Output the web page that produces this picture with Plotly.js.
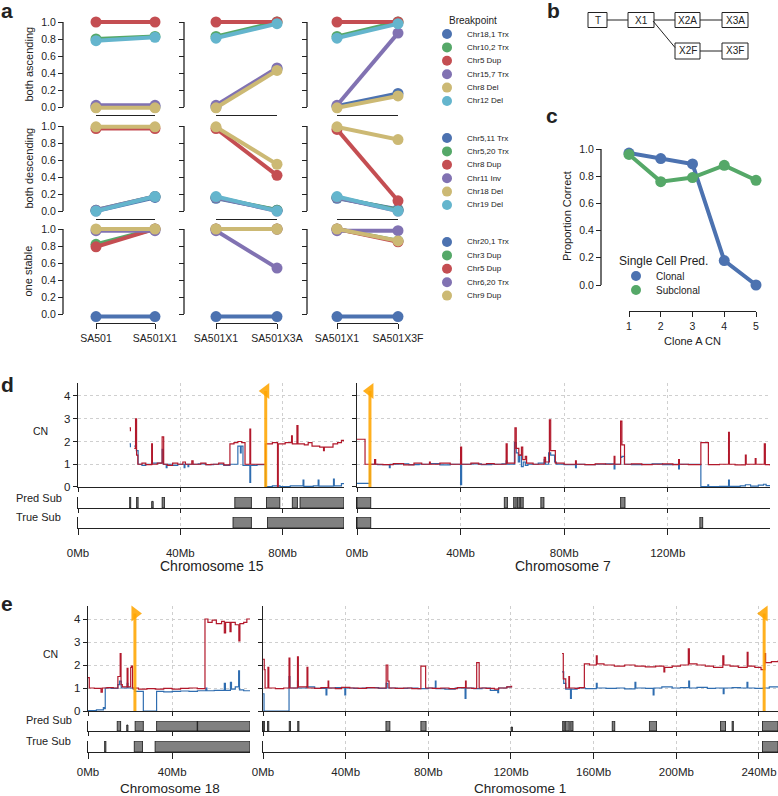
<!DOCTYPE html>
<html>
<head>
<meta charset="utf-8">
<script src="https://cdn.plot.ly/plotly-3.0.1.min.js"></script>
<style>
  html, body { margin: 0; padding: 0; background: #fff; }
  #chart { width: 778px; height: 796px; }
</style>
</head>
<body>
<div id="chart"></div>
<script>
// ---------- panel a: breakpoint prevalence across passages ----------
const sampleLabels = [['SA501', 'SA501X1'], ['SA501X1', 'SA501X3A'], ['SA501X1', 'SA501X3F']];
const rowTitles = ['both ascending', 'both descending', 'one stable'];
const palette = ['#4C72B0', '#55A868', '#C44E52', '#8172B2', '#CCB974', '#64B5CD'];

const ascNames = ['Chr18,1 Trx', 'Chr10,2 Trx', 'Chr5 Dup', 'Chr15,7 Trx', 'Chr8 Del', 'Chr12 Del'];
const ascVals = [
  [[0.00, 0.00], [0.00, 0.45], [0.01, 0.16]],
  [[0.80, 0.83], [0.83, 1.00], [0.83, 1.00]],
  [[1.00, 1.00], [1.00, 1.00], [1.00, 1.00]],
  [[0.02, 0.02], [0.02, 0.46], [0.02, 0.87]],
  [[-0.01, -0.01], [-0.01, 0.43], [-0.01, 0.13]],
  [[0.78, 0.82], [0.81, 0.98], [0.81, 0.98]]
];
const descNames = ['Chr5,11 Trx', 'Chr5,20 Trx', 'Chr8 Dup', 'Chr11 Inv', 'Chr18 Del', 'Chr19 Del'];
const descVals = [
  [[0.00, 0.16], [0.15, 0.01], [0.15, 0.02]],
  [[0.01, 0.17], [0.16, 0.01], [0.16, 0.01]],
  [[0.97, 0.97], [0.97, 0.42], [0.96, 0.12]],
  [[0.01, 0.17], [0.16, 0.00], [0.16, 0.00]],
  [[0.99, 0.99], [0.99, 0.55], [0.99, 0.84]],
  [[0.00, 0.17], [0.17, 0.00], [0.17, 0.00]]
];
const stableNames = ['Chr20,1 Trx', 'Chr3 Dup', 'Chr5 Dup', 'Chr6,20 Trx', 'Chr9 Dup'];
const stableVals = [
  [[-0.03, -0.03], [-0.03, -0.03], [-0.03, -0.03]],
  [[0.82, 1.00], [1.00, 1.00], [1.00, 0.86]],
  [[0.79, 1.00], [1.00, 1.00], [1.00, 0.85]],
  [[0.98, 0.98], [0.98, 0.54], [0.98, 0.98]],
  [[1.00, 1.00], [1.00, 1.00], [1.00, 0.86]]
];

// ---------- panel b: passage tree ----------
const treeNodes = ['T', 'X1', 'X2A', 'X3A', 'X2F', 'X3F'];

// ---------- panel c ----------
const cloneCN = [1, 2, 3, 4, 5];
const clonalCorrect = [0.97, 0.93, 0.89, 0.18, 0.00];
const subclonalCorrect = [0.96, 0.76, 0.79, 0.88, 0.77];

// ---------- panels d / e: copy number, [Mb, CN] steps ----------
const chr15Red = [[20.2,2.6],[20.5,2.45],[20.6,null],[22.0,1.7],[22.5,3.0],[22.9,1.4],[23.4,1.0],[25.0,1.05],[26.5,0.98],[28.8,1.9],[29.1,1.0],[31.0,1.05],[32.9,2.2],[33.5,1.0],[35.0,0.95],[37.0,1.05],[39.0,1.0],[41.0,1.1],[42.0,1.0],[44.5,1.15],[45.0,1.0],[48.0,1.05],[50.0,0.98],[52.0,1.0],[55.0,1.05],[57.0,0.97],[59.4,1.9],[61.0,1.95],[62.5,2.0],[64.0,1.95],[65.3,1.0],[67.2,2.55],[67.5,1.0],[70.0,1.0],[73.3,1.9],[76.0,1.95],[78.0,0.0],[78.3,1.9],[81.0,1.95],[83.5,2.25],[83.8,1.9],[85.6,2.7],[86.0,1.9],[88.5,1.85],[90.0,1.95],[91.5,1.8],[94.5,1.75],[96.0,1.6],[96.3,1.75],[99.7,1.9],[101.5,1.95],[103.0,2.05],[104.0,2.0]];
const chr15Blue = [[20.2,1.9],[20.5,1.75],[20.6,null],[22.0,1.8],[22.8,1.6],[23.5,1.0],[25.0,0.95],[26.5,1.0],[29.0,1.05],[32.9,1.65],[33.4,1.0],[34.5,0.85],[34.8,1.0],[37.0,0.95],[39.0,1.0],[41.5,0.85],[41.8,1.0],[43.0,0.9],[43.3,1.0],[47.0,1.02],[50.0,0.98],[53.0,1.0],[57.0,0.95],[59.4,1.0],[62.5,1.8],[63.5,1.5],[63.8,1.8],[64.5,0.95],[67.2,0.2],[67.5,0.95],[70.0,0.98],[73.3,0.02],[76.0,0.05],[79.0,0.02],[83.0,0.05],[88.0,0.3],[88.3,0.03],[92.0,0.05],[93.9,0.3],[94.2,0.04],[99.9,0.35],[100.2,0.05],[103.0,0.15],[104.0,0.15]];
const chr15PredSub = [[20.2,20.6,1],[22.9,23.5,1],[28.8,29.4,0.6],[32.9,33.8,1],[61.3,67.8,1],[73.7,78.9,1],[83.8,85.8,1],[86.8,104,1]];
const chr15TrueSub = [[60.6,67.8,1],[74.1,104,1]];
const chr15Breakpoint = 73.4;

const chr7Red = [[0,2.1],[3.1,1.0],[6.8,1.2],[7.2,1.0],[10,0.98],[14,1.03],[18,0.97],[22,1.05],[25,1.0],[28,1.1],[28.3,1.0],[32,1.05],[36,1.0],[40.0,1.75],[40.4,1.0],[44,1.05],[47,1.0],[50,1.03],[53,1.0],[57.6,1.9],[58.0,1.05],[61.0,2.6],[61.5,1.7],[62.5,1.4],[63.5,1.75],[64.0,1.2],[65.0,1.35],[65.5,1.05],[68,1.0],[72.3,1.3],[72.8,1.1],[74.3,2.95],[74.8,1.6],[76.2,1.6],[76.6,1.05],[80,1.0],[84.4,1.15],[84.7,1.0],[88,0.98],[92,1.02],[96,1.0],[99.3,1.35],[99.6,1.0],[101.8,2.9],[102.3,1.85],[103.3,1.0],[106,1.02],[110,0.98],[114,1.0],[118,1.02],[122,0.98],[124.2,1.2],[124.5,1.0],[128,0.98],[132.8,1.95],[135.7,0.98],[140,1.0],[143.5,2.4],[143.8,1.0],[146,0.97],[150.0,1.4],[150.3,1.0],[153.8,1.25],[154.1,1.0],[157.3,1.9],[157.7,0.98],[159.5,0.95]];
const chr7Blue = [[0,0.16],[5.0,1.0],[8,0.98],[12.5,0.85],[12.8,1.0],[16,1.02],[20,0.98],[24,1.0],[28,1.03],[32,0.97],[36,1.0],[40.0,0.1],[40.4,1.0],[44,1.02],[48,0.98],[52,1.0],[56,1.02],[57.6,1.15],[58.0,1.0],[60.8,1.95],[61.5,1.5],[62.3,1.1],[62.8,1.4],[63.5,0.9],[64.2,1.1],[65,0.95],[66,1.0],[70,1.05],[72.3,1.2],[72.8,1.0],[74.0,1.5],[74.8,1.4],[76.3,1.1],[77,1.0],[80,0.98],[84.4,0.85],[84.7,1.0],[88,0.98],[92,1.0],[96,1.02],[99.3,0.8],[99.6,1.0],[101.8,1.3],[102.3,1.35],[103.3,1.0],[106,0.98],[110,1.0],[114,1.02],[118,0.98],[122,1.0],[124.2,0.8],[124.5,1.0],[128,1.0],[132.8,0.02],[135.5,0.1],[135.8,0.02],[140,0.03],[143.5,0.3],[143.8,0.03],[148,0.05],[150,0.1],[152,0.04],[155,0.08],[157,0.12],[158,0.06],[159.5,0.06]];
const chr7PredSub = [[0,5.3,1],[56.9,58.1,1],[60.5,61.5,1],[62.0,62.9,1],[63.2,64.2,1],[71.0,72.2,1],[101.8,103.5,1]];
const chr7TrueSub = [[0,5.3,1],[132.4,133.5,1]];
const chr7Breakpoint = 5.0;

const chr18Red = [[0,1.45],[0.6,1.0],[3,0.98],[6.2,0.82],[6.8,1.0],[9,1.02],[12,1.0],[14.2,1.5],[15.3,2.5],[15.7,1.15],[16.3,1.05],[18.6,1.85],[19.0,1.05],[20.3,1.9],[20.7,1.95],[21.2,1.0],[24,0.95],[28,0.97],[32,0.95],[36,0.98],[40,0.95],[44,0.98],[48,1.0],[52,0.97],[55.6,4.0],[57,3.85],[59,3.95],[61,3.8],[63.5,3.9],[64.8,3.4],[65.4,3.85],[67.5,3.45],[68,3.85],[70,3.75],[71.7,3.05],[72.2,3.8],[74,3.85],[75.5,4.0],[77,4.0]];
const chr18Blue = [[0,0.02],[4,0.05],[7.3,0.15],[7.7,0.1],[8.2,1.0],[11,0.98],[14.2,1.15],[15.0,1.3],[15.8,1.0],[18.6,1.2],[19.0,1.0],[21.5,0.95],[22.3,0.85],[26.3,0.0],[32.6,0.85],[36,0.83],[40,0.85],[44,0.87],[48,0.85],[52,0.88],[56,1.0],[56.5,0.88],[60,0.9],[64.8,1.2],[65.3,0.9],[67.7,1.25],[68.2,0.95],[70.0,1.05],[71.6,1.75],[72.0,0.92],[74,0.88],[77,0.88]];
const chr18PredSub = [[13.9,15.5,1],[18.4,19.0,0.6],[22.4,26.3,1],[32.6,51.9,1],[52.1,77,1]];
const chr18TrueSub = [[7.9,8.5,1],[22.0,25.9,1],[31.9,77,1]];
const chr18Breakpoint = 22.3;

const chr1Red = [[0,2.25],[0.6,1.8],[1.0,1.0],[2.4,1.9],[2.8,1.0],[6,0.97],[10,1.0],[12.6,2.3],[13.0,1.0],[16.7,2.35],[17.1,1.05],[21.3,1.9],[21.7,1.0],[25,0.98],[28,1.02],[31.5,1.3],[31.8,1.0],[35,0.97],[38,1.03],[42,1.0],[46,0.98],[50,1.02],[54,1.0],[59.6,2.0],[60.4,1.3],[61.0,1.0],[64,0.98],[68,1.0],[72,0.97],[76.4,1.95],[78.7,1.0],[82,0.98],[86,1.0],[90,0.97],[94,1.02],[98,1.3],[98.3,1.0],[101,0.98],[103.4,2.1],[104.6,1.0],[108,0.98],[112,0.95],[114,1.0],[118,1.05],[120.3,1.1],[120.4,null],[144.7,2.5],[145.3,1.4],[146.5,1.0],[148.0,1.5],[148.3,1.0],[151,0.98],[153,1.02],[155.5,2.05],[158,2.0],[161.3,2.4],[161.7,2.05],[165,2.0],[170,1.95],[175,2.0],[180,1.95],[185,1.92],[190,1.95],[194.0,1.7],[194.4,1.9],[198,1.95],[202,2.0],[205.8,2.7],[206.3,2.05],[210,2.0],[214,1.95],[218,1.9],[222.5,2.4],[223.0,2.0],[226,1.95],[230,1.9],[234.3,2.55],[234.7,1.95],[238,1.9],[241,1.8],[242.8,2.5],[243.2,2.1],[246,2.15],[249.2,2.2]];
const chr1Blue = [[0,0.75],[0.5,0.0],[12.6,1.5],[13.0,1.0],[16.7,1.3],[17.1,1.0],[21,1.05],[25,0.98],[30.5,0.7],[30.9,1.0],[35,1.02],[39.6,0.7],[40.0,1.0],[44,0.98],[48,1.0],[52,1.02],[56,0.98],[59.6,1.2],[60.4,1.0],[65,0.98],[70,1.0],[75,0.97],[80,1.0],[83.4,1.3],[83.7,0.97],[88,0.95],[93,1.0],[97.8,0.55],[98.2,1.0],[102,0.97],[106,1.0],[110,0.9],[113.6,0.8],[114,1.0],[118,1.05],[120.3,1.05],[120.4,null],[144.7,1.7],[145.5,1.2],[146.5,0.95],[148.8,0.55],[149.2,0.95],[152,1.0],[156,0.97],[161.3,1.2],[161.7,1.0],[166,0.98],[171,1.0],[175,0.96],[180,1.25],[180.4,1.0],[185,0.98],[188.8,0.7],[189.2,1.0],[193,1.05],[198,1.0],[202,1.02],[206,1.3],[206.4,1.0],[210,1.03],[215,0.98],[219,1.0],[222.7,0.75],[223.1,1.0],[227,1.02],[231,1.0],[234.2,1.25],[234.6,1.0],[238,0.98],[242,1.0],[245,1.05],[249.2,1.05]];
const chr1PredSub = [[0.1,0.7,1],[2.2,2.8,1],[12.7,13.3,1],[16.8,17.4,1],[59.5,61.4,1],[76.4,78.9,1],[120.1,120.7,0.4],[145.0,145.8,1],[146.3,148.2,1],[148.9,150.0,1],[169.0,170.2,1],[187.0,190.4,1],[221.4,223.8,1],[227.0,227.6,1],[241.7,249.2,1]];
const chr1TrueSub = [[241.7,249.2,1]];
const chr1Breakpoint = 242.5;

// ---------- layout helpers (pixel -> paper) ----------
const W = 778, H = 796;
const FONT = 'Liberation Sans, Arial, sans-serif';
const INK = '#222222';
const GRID = '#cfcfcf';
const CN_RED = '#B2182B';
const CN_BLUE = '#2F6DB0';
const ORANGE = 'rgba(255,165,0,0.88)';

function px(x) { return x / W; }
function py(y) { return 1 - y / H; }

const traces = [];
const layout = {
  width: W, height: H,
  margin: { l: 0, r: 0, t: 0, b: 0 },
  showlegend: false,
  paper_bgcolor: '#fff',
  plot_bgcolor: 'rgba(0,0,0,0)',
  font: { family: FONT, size: 11, color: INK },
  shapes: [],
  annotations: []
};

let axN = 0;
function addSubplot(xo, yo) {
  axN++;
  const sfx = axN === 1 ? '' : String(axN);
  const base = { showgrid: false, zeroline: false, fixedrange: true, tickcolor: INK, linecolor: INK };
  layout['xaxis' + sfx] = Object.assign({ anchor: 'y' + sfx }, base, xo);
  layout['yaxis' + sfx] = Object.assign({ anchor: 'x' + sfx }, base, yo);
  return { x: 'x' + sfx, y: 'y' + sfx };
}

function txt(text, x, y, size, extra) {
  layout.annotations.push(Object.assign({
    text: text, x: px(x), y: py(y), xref: 'paper', yref: 'paper',
    showarrow: false, xanchor: 'center', yanchor: 'middle',
    font: { family: FONT, size: size, color: INK }
  }, extra || {}));
}

function seg(x0, y0, x1, y1, width) {
  layout.shapes.push({ type: 'line', xref: 'paper', yref: 'paper',
    x0: px(x0), y0: py(y0), x1: px(x1), y1: py(y1),
    line: { color: INK, width: width || 1 } });
}

// ---------- panel a ----------
const rowY1 = [22, 126, 229];     // pixel of value 1.0
const rowY0 = [107, 211, 314];    // pixel of value 0.0
const rowAxisY = [115, 219, 323]; // pixel of trimmed x spine
const colSpineX = [63, 184, 307];
const colPts = [[96, 155], [216, 277], [337, 398]];
const aRows = [
  { names: ascNames, vals: ascVals },
  { names: descNames, vals: descVals },
  { names: stableNames, vals: stableVals }
];
const yLo = -0.1, yHi = 1.08;

aRows.forEach((row, r) => {
  const unit = rowY0[r] - rowY1[r];
  for (let c = 0; c < 3; c++) {
    const ax = addSubplot({
      domain: [px(colPts[c][0]), px(colPts[c][1])], range: [0, 1],
      anchor: 'free', position: py(rowAxisY[r]),
      showline: true, linewidth: 1.3,
      ticks: r === 2 ? 'outside' : '', ticklen: 5,
      tickvals: [0, 1], ticktext: sampleLabels[c],
      showticklabels: r === 2, tickfont: { size: 10.5 }
    }, {
      domain: [py(rowY0[r] - yLo * unit), py(rowY1[r] - (yHi - 1) * unit)],
      range: [yLo, yHi], anchor: 'free', position: px(colSpineX[c]),
      showline: false, ticks: 'outside', ticklen: 5,
      tickvals: [0, 0.2, 0.4, 0.6, 0.8, 1.0],
      ticktext: ['0.0', '0.2', '0.4', '0.6', '0.8', '1.0'],
      showticklabels: c === 0, tickfont: { size: 10.5 }
    });
    layout.shapes.push({ type: 'line', xref: 'paper', yref: ax.y,
      x0: px(colSpineX[c]), x1: px(colSpineX[c]), y0: 0, y1: 1,
      line: { color: INK, width: 1.3 } });
    row.vals.forEach((v, i) => {
      traces.push({
        type: 'scatter', mode: 'lines+markers', x: [0, 1], y: v[c],
        xaxis: ax.x, yaxis: ax.y, cliponaxis: false, hoverinfo: 'skip',
        line: { color: palette[i], width: 4 },
        marker: { color: palette[i], size: 11 }
      });
    });
  }
  txt(rowTitles[r], 28, (rowY0[r] + rowY1[r]) / 2, 11, { textangle: -90 });
});

// legend of panel a
txt('Breakpoint', 473, 20, 10);
const legendTop = [34, 138, 242];
aRows.forEach((row, g) => {
  row.names.forEach((name, i) => {
    const cy = legendTop[g] + i * 13.4;
    layout.shapes.push({ type: 'circle', xref: 'paper', yref: 'paper',
      x0: px(442), x1: px(452), y0: py(cy + 5), y1: py(cy - 5),
      fillcolor: palette[i], line: { width: 0 } });
    txt(name, 465, cy, 8, { xanchor: 'left' });
  });
});

// ---------- panel b ----------
const boxPx = [[588, 607, 12.5, 27.5], [628, 654, 12.5, 27.5], [675, 700, 12.5, 27.5],
               [722, 748, 12.5, 27.5], [675, 700, 43, 59], [722, 748, 43, 59]];
treeNodes.forEach((n, i) => {
  const b = boxPx[i];
  layout.shapes.push({ type: 'rect', xref: 'paper', yref: 'paper',
    x0: px(b[0]), x1: px(b[1]), y0: py(b[3]), y1: py(b[2]),
    line: { color: INK, width: 1 }, fillcolor: '#fff' });
  txt(n, (b[0] + b[1]) / 2, (b[2] + b[3]) / 2, 10);
});
seg(607, 20, 628, 20); seg(654, 20, 675, 20); seg(700, 20, 722, 20);
seg(653, 21, 675, 47.5); seg(700, 51, 722, 51);

// ---------- panel c ----------
const cAx = addSubplot({
  domain: [px(629), px(756)], range: [1, 5], anchor: 'free', position: py(311),
  showline: true, linewidth: 1.3, ticks: 'outside', ticklen: 5,
  tickvals: cloneCN, tickfont: { size: 10.5 }
}, {
  domain: [py(285 + 0.06 * 136), py(149 - 0.06 * 136)], range: [-0.06, 1.06],
  anchor: 'free', position: px(601), showline: false, ticks: 'outside', ticklen: 5,
  tickvals: [0, 0.2, 0.4, 0.6, 0.8, 1.0],
  ticktext: ['0.0', '0.2', '0.4', '0.6', '0.8', '1.0'], tickfont: { size: 10.5 }
});
layout.shapes.push({ type: 'line', xref: 'paper', yref: cAx.y,
  x0: px(601), x1: px(601), y0: 0, y1: 1, line: { color: INK, width: 1.3 } });
[[clonalCorrect, palette[0]], [subclonalCorrect, palette[1]]].forEach(([vals, col]) => {
  traces.push({ type: 'scatter', mode: 'lines+markers', x: cloneCN, y: vals,
    xaxis: cAx.x, yaxis: cAx.y, cliponaxis: false, hoverinfo: 'skip',
    line: { color: col, width: 4 }, marker: { color: col, size: 11 } });
});
txt('Proportion Correct', 567, 216, 11, { textangle: -90 });
txt('Clone A CN', 692, 341, 11);
txt('Single Cell Pred.', 617, 261, 12, { xanchor: 'left' });
[['Clonal', palette[0], 276], ['Subclonal', palette[1], 290]].forEach(([lab, col, cy]) => {
  layout.shapes.push({ type: 'circle', xref: 'paper', yref: 'paper',
    x0: px(631), x1: px(641), y0: py(cy + 5), y1: py(cy - 5),
    fillcolor: col, line: { width: 0 } });
  txt(lab, 654, cy, 10, { xanchor: 'left' });
});

// ---------- panels d / e ----------
function stepTrace(pairs, ax, color) {
  return { type: 'scatter', mode: 'lines', x: pairs.map(p => p[0]), y: pairs.map(p => p[1]),
    xaxis: ax.x, yaxis: ax.y, hoverinfo: 'skip', connectgaps: false,
    line: { color: color, width: 1.2, shape: 'hv' } };
}
function boxTrace(segs, ax) {
  const x = [], y = [];
  segs.forEach(([s, e, h]) => { x.push(s, s, e, e, s, null); y.push(0, h, h, 0, 0, null); });
  return { type: 'scatter', mode: 'lines', x: x, y: y, fill: 'toself', fillcolor: '#808080',
    xaxis: ax.x, yaxis: ax.y, hoverinfo: 'skip', line: { color: '#111', width: 0.8 } };
}

function chromPanel(o) {
  const xBase = {
    domain: [px(o.x0), px(o.x1)], range: [0, o.len],
    tickvals: o.ticks, ticktext: o.ticks.map(t => t + 'Mb'),
    showgrid: true, griddash: 'dot', gridcolor: GRID, gridwidth: 1,
    showline: true, linewidth: 1.2, ticks: 'outside', ticklen: 4, showticklabels: false
  };
  const cn = addSubplot(xBase, {
    domain: [py(o.cn0), py(o.cn0 - 4.55 * o.unit)], range: [0, 4.55],
    tickvals: [0, 1, 2, 3, 4], showticklabels: o.yLabels, ticks: 'outside', ticklen: 4,
    showline: true, linewidth: 1.2, showgrid: true, griddash: 'dot', gridcolor: GRID,
    tickfont: { size: 11.5 }
  });
  const pred = addSubplot(Object.assign({}, xBase), {
    domain: [py(o.pred[1]), py(o.pred[0])], range: [0, 1],
    showline: true, linewidth: 1.2, ticks: '', showticklabels: false
  });
  const truth = addSubplot(Object.assign({}, xBase, {
    showticklabels: true, ticklen: 6, ticklabelstandoff: o.standoff, tickfont: { size: 11.5 }
  }), {
    domain: [py(o.truth[1]), py(o.truth[0])], range: [0, 1],
    showline: true, linewidth: 1.2, ticks: '', showticklabels: false
  });
  traces.push(stepTrace(o.blue, cn, CN_BLUE));
  traces.push(stepTrace(o.red, cn, CN_RED));
  traces.push({ type: 'scatter', mode: 'lines', x: [o.bp, o.bp], y: [0, o.bpTop],
    xaxis: cn.x, yaxis: cn.y, hoverinfo: 'skip', line: { color: ORANGE, width: 3 } });
  traces.push({ type: 'scatter', mode: 'markers', x: [o.bp], y: [o.bpTop],
    xaxis: cn.x, yaxis: cn.y, hoverinfo: 'skip', cliponaxis: false,
    marker: { symbol: o.bpSymbol, size: 14, color: ORANGE, line: { width: 0 } } });
  traces.push(boxTrace(o.predSub, pred));
  traces.push(boxTrace(o.trueSub, truth));
  txt(o.title, o.titleX, o.titleY, o.titleSize);
}

// panel d
chromPanel({ x0: 78, x1: 344, len: 104, ticks: [0, 40, 80], cn0: 487, unit: 22.75,
  pred: [497, 508], truth: [517, 528], standoff: 8, yLabels: true,
  red: chr15Red, blue: chr15Blue, predSub: chr15PredSub, trueSub: chr15TrueSub,
  bp: chr15Breakpoint, bpTop: 4.22, bpSymbol: 'triangle-left',
  title: 'Chromosome 15', titleX: 212, titleY: 566, titleSize: 14 });
chromPanel({ x0: 357, x1: 770, len: 159.5, ticks: [0, 40, 80, 120], cn0: 487, unit: 22.75,
  pred: [497, 508], truth: [517, 528], standoff: 8, yLabels: false,
  red: chr7Red, blue: chr7Blue, predSub: chr7PredSub, trueSub: chr7TrueSub,
  bp: chr7Breakpoint, bpTop: 4.22, bpSymbol: 'triangle-left',
  title: 'Chromosome 7', titleX: 563, titleY: 566, titleSize: 14 });
txt('CN', 40, 431, 10.5);
txt('Pred Sub', 14, 498, 11, { xanchor: 'left' });
txt('True Sub', 14, 517, 11, { xanchor: 'left' });

// panel e
chromPanel({ x0: 88, x1: 250, len: 77, ticks: [0, 40], cn0: 711, unit: 23,
  pred: [721, 731], truth: [741, 752], standoff: 3, yLabels: true,
  red: chr18Red, blue: chr18Blue, predSub: chr18PredSub, trueSub: chr18TrueSub,
  bp: chr18Breakpoint, bpTop: 4.24, bpSymbol: 'triangle-right',
  title: 'Chromosome 18', titleX: 170, titleY: 788, titleSize: 13.5 });
chromPanel({ x0: 263, x1: 778, len: 249.2, ticks: [0, 40, 80, 120, 160, 200, 240], cn0: 711, unit: 23,
  pred: [721, 731], truth: [741, 752], standoff: 3, yLabels: false,
  red: chr1Red, blue: chr1Blue, predSub: chr1PredSub, trueSub: chr1TrueSub,
  bp: chr1Breakpoint, bpTop: 4.24, bpSymbol: 'triangle-left',
  title: 'Chromosome 1', titleX: 520, titleY: 788, titleSize: 13.5 });
txt('CN', 50, 654, 10.5);
txt('Pred Sub', 24, 720, 11, { xanchor: 'left' });
txt('True Sub', 24, 741, 11, { xanchor: 'left' });

// panel letters
txt('<b>a</b>', 7, 11, 21);
txt('<b>b</b>', 553, 10, 21);
txt('<b>c</b>', 552, 116, 21);
txt('<b>d</b>', 7, 384, 21);
txt('<b>e</b>', 7, 603, 21);

Plotly.newPlot('chart', traces, layout, { staticPlot: true, displayModeBar: false });
</script>
</body>
</html>
